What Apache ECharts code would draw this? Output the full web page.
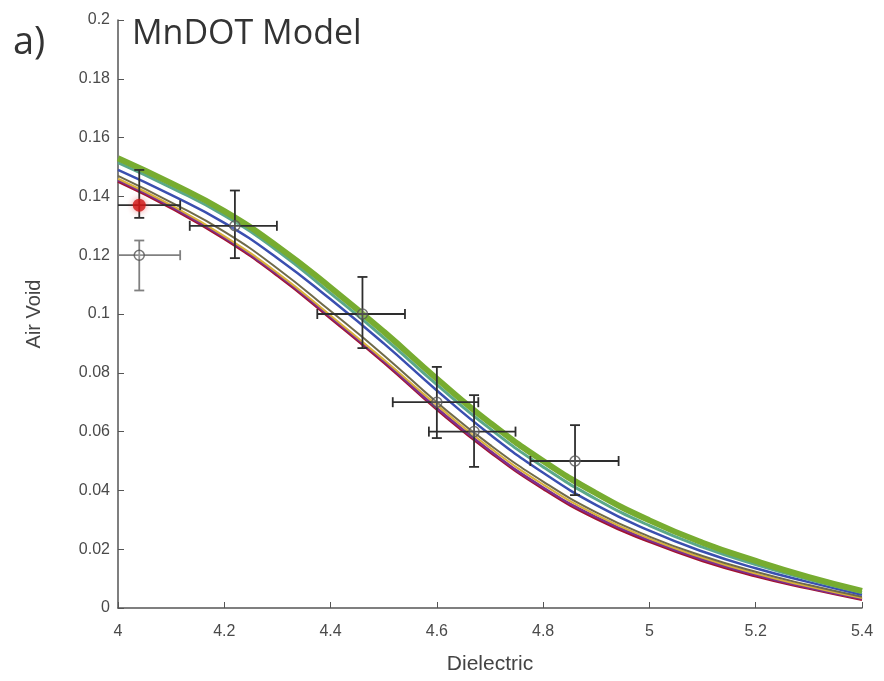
<!DOCTYPE html>
<html>
<head>
<meta charset="utf-8">
<script src="https://cdn.jsdelivr.net/npm/echarts@6/dist/echarts.min.js"></script>
<style>
  html, body { margin: 0; padding: 0; background: #fff; }
  #main { width: 884px; height: 681px; }
</style>
</head>
<body>
<div id="main"></div>
<script>
// x positions of the model curves
const dielectric = [4.0, 4.1, 4.2, 4.3, 4.4, 4.5, 4.6, 4.7, 4.8, 4.9, 5.0, 5.1, 5.2, 5.3, 5.4]

// model curves, top of the band first
const curveGreen  = [0.153, 0.1445, 0.135, 0.123, 0.109, 0.094, 0.078, 0.063, 0.050, 0.039, 0.0298, 0.0222, 0.016, 0.0105, 0.0058]
const curveCyan   = [0.1515, 0.143, 0.1335, 0.1215, 0.107, 0.092, 0.076, 0.061, 0.048, 0.037, 0.028, 0.0207, 0.0148, 0.0097, 0.0053]
const curveBlue   = [0.149, 0.1405, 0.131, 0.119, 0.105, 0.090, 0.074, 0.059, 0.046, 0.035, 0.0263, 0.0192, 0.0135, 0.0088, 0.0045]
const curveGray   = [0.147, 0.138, 0.128, 0.1155, 0.101, 0.086, 0.070, 0.0555, 0.043, 0.0325, 0.0243, 0.0177, 0.0123, 0.0078, 0.0038]
const curveYellow = [0.146, 0.137, 0.1265, 0.114, 0.0995, 0.0845, 0.069, 0.0545, 0.042, 0.0317, 0.0236, 0.0171, 0.0117, 0.0073, 0.0034]
const curvePurple = [0.1455, 0.1365, 0.126, 0.1135, 0.099, 0.084, 0.068, 0.0535, 0.041, 0.0309, 0.023, 0.0165, 0.0112, 0.0069, 0.0031]
const curveRed    = [0.145, 0.136, 0.1255, 0.113, 0.0985, 0.0835, 0.0675, 0.053, 0.0405, 0.0303, 0.0225, 0.016, 0.0108, 0.0066, 0.0028]

// measured points with error bars
const pointX    = [4.04, 4.22, 4.46, 4.60, 4.67, 4.86]
const pointY    = [0.120, 0.130, 0.100, 0.070, 0.060, 0.050]
const pointXLow = [3.96, 4.135, 4.375, 4.517, 4.585, 4.776]
const pointXHigh= [4.117, 4.299, 4.54, 4.678, 4.748, 4.942]
const pointYLow = [0.108, 0.119, 0.0884, 0.0578, 0.048, 0.0384]
const pointYHigh= [0.125, 0.142, 0.1126, 0.082, 0.0724, 0.0622]

// highlighted (red) point
const redX = 4.04, redY = 0.137
const redXLow = 3.96, redXHigh = 4.117, redYLow = 0.1327, redYHigh = 0.149

const xTicks = ['4', '4.2', '4.4', '4.6', '4.8', '5', '5.2', '5.4']

const pair = (ys) => dielectric.map((x, i) => [x, ys[i]])

const curves = [
  { data: curveRed, color: '#a2142f', width: 2.5 },
  { data: curvePurple, color: '#7e2f8e', width: 2.5 },
  { data: curveYellow, color: '#d9b13a', width: 2 },
  { data: curveGray, color: '#6f6a4a', width: 2 },
  { data: curveBlue, color: '#3a4fb0', width: 2.5 },
  { data: curveCyan, color: '#5aa88a', width: 3 },
  { data: curveGreen, color: '#77ac30', width: 6 }
]

const errData = pointX.map((x, i) => [x, pointY[i], pointXLow[i], pointXHigh[i], pointYLow[i], pointYHigh[i]])
errData.push([redX, redY, redXLow, redXHigh, redYLow, redYHigh])

function renderErr(params, api) {
  const x = api.value(0), y = api.value(1)
  const c = api.coord([x, y])
  const l = api.coord([api.value(2), y])
  const r = api.coord([api.value(3), y])
  const b = api.coord([x, api.value(4)])
  const t = api.coord([x, api.value(5)])
  const left = params.coordSys.x
  const cap = 5
  const color = params.dataIndex === 0 ? '#808080' : '#2e2e2e'
  const style = { stroke: color, lineWidth: 1.8 }
  const kids = []
  const lx = Math.max(l[0], left)
  kids.push({ type: 'line', shape: { x1: lx, y1: c[1], x2: r[0], y2: c[1] }, style })
  kids.push({ type: 'line', shape: { x1: c[0], y1: t[1], x2: c[0], y2: b[1] }, style })
  if (l[0] >= left) kids.push({ type: 'line', shape: { x1: l[0], y1: c[1] - cap, x2: l[0], y2: c[1] + cap }, style })
  kids.push({ type: 'line', shape: { x1: r[0], y1: c[1] - cap, x2: r[0], y2: c[1] + cap }, style })
  kids.push({ type: 'line', shape: { x1: c[0] - cap, y1: t[1], x2: c[0] + cap, y2: t[1] }, style })
  kids.push({ type: 'line', shape: { x1: c[0] - cap, y1: b[1], x2: c[0] + cap, y2: b[1] }, style })
  return { type: 'group', children: kids }
}

const myChart = echarts.init(document.getElementById('main'))

const axisText = { color: '#4a4a4a', fontFamily: 'Liberation Sans, Arial, sans-serif', fontSize: 16 }

myChart.setOption({
  animation: false,
  title: [
    { text: 'a)', left: 8, top: 19, textStyle: { fontFamily: 'Open Sans', fontWeight: 'normal', fontSize: 38, color: '#333' } },
    { text: 'MnDOT Model', left: 127, top: 12, textStyle: { fontFamily: 'Open Sans', fontWeight: 'normal', fontSize: 34, color: '#333' } }
  ],
  grid: { left: 118, right: 22, top: 20, bottom: 73 },
  xAxis: {
    type: 'value', min: 4, max: 5.4, interval: 0.2,
    name: 'Dielectric', nameLocation: 'middle', nameGap: 46,
    nameTextStyle: { color: '#444', fontFamily: 'Liberation Sans, Arial, sans-serif', fontSize: 21 },
    axisLine: { lineStyle: { color: '#555', width: 1.5 } },
    axisTick: { inside: true, length: 6, lineStyle: { color: '#555' } },
    axisLabel: Object.assign({ margin: 16, formatter: (v) => xTicks[Math.round((v - 4) / 0.2)] }, axisText),
    splitLine: { show: false }
  },
  yAxis: {
    type: 'value', min: 0, max: 0.2, interval: 0.02,
    name: 'Air Void', nameLocation: 'middle', nameGap: 74,
    nameTextStyle: { color: '#444', fontFamily: 'Liberation Sans, Arial, sans-serif', fontSize: 20 },
    axisLine: { show: true, lineStyle: { color: '#555', width: 1.5 } },
    axisTick: { show: true, inside: true, length: 6, lineStyle: { color: '#555' } },
    axisLabel: Object.assign({ margin: 8, formatter: (v) => String(+v.toFixed(2)) }, axisText),
    splitLine: { show: false }
  },
  series: [
    ...curves.map((c) => ({
      type: 'line', data: pair(c.data), smooth: true, showSymbol: false,
      lineStyle: { color: c.color, width: c.width }, silent: true
    })),
    {
      type: 'custom', renderItem: renderErr, data: errData, z: 5, silent: true
    },
    {
      type: 'scatter', data: pointX.map((x, i) => [x, pointY[i]]), symbol: 'circle', symbolSize: 10, z: 6,
      itemStyle: { color: 'rgba(255,255,255,0.2)', borderColor: '#555', borderWidth: 1.5 }
    },
    {
      type: 'scatter', data: [[redX, redY]], symbol: 'circle', symbolSize: 13, z: 7,
      itemStyle: { color: '#d01515', shadowColor: 'rgba(220,30,30,0.6)', shadowBlur: 6 }
    }
  ]
})
</script>
</body>
</html>
